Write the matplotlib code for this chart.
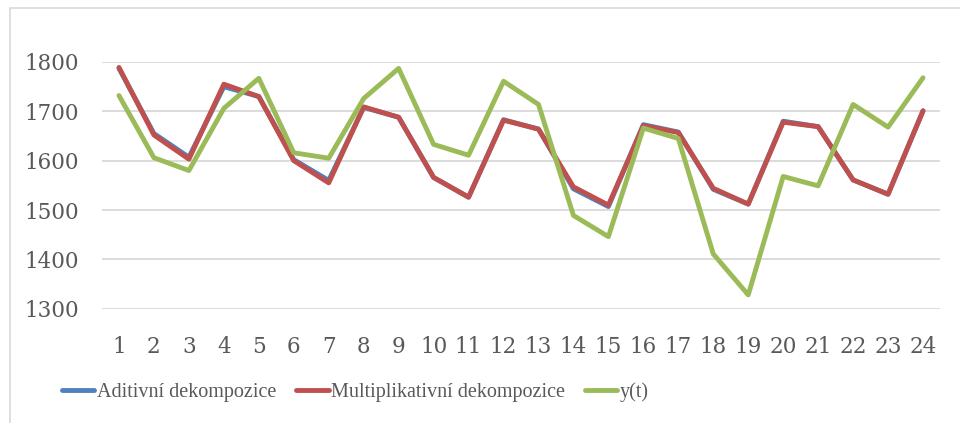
import numpy as np
import matplotlib
matplotlib.use("Agg")
import matplotlib.pyplot as plt
from matplotlib.patches import Rectangle

# Time index and the two decomposition fits vs. the observed series
t = list(range(1, 25))
aditivni = [1787, 1655, 1607, 1750, 1730, 1602, 1560, 1708, 1688, 1566, 1526, 1683,
            1664, 1543, 1507, 1673, 1658, 1542, 1512, 1680, 1669, 1561, 1532, 1701]
multiplikativni = [1789, 1652, 1603, 1755, 1730, 1600, 1555, 1709, 1688, 1566, 1526, 1682,
                   1664, 1547, 1510, 1671, 1657, 1544, 1512, 1678, 1669, 1561, 1532, 1701]
y_t = [1732, 1606, 1580, 1706, 1767, 1616, 1605, 1726, 1787, 1633, 1611, 1761,
       1714, 1489, 1446, 1666, 1645, 1411, 1328, 1568, 1549, 1714, 1668, 1768]
y_ticks = [1300, 1400, 1500, 1600, 1700, 1800]

BLUE, RED, GREEN = "#4f81bd", "#c0504d", "#9bbb59"
TXT = "#595959"
GRID = "#d9d9d9"
FONT = ["DejaVu Serif"]

fig = plt.figure(figsize=(9.6, 4.23), dpi=100)
# chart frame (left and top edges only show)
fig.patches.append(Rectangle((10 / 960, -0.1), 1.2, 1 - 8 / 423 + 0.1,
                             transform=fig.transFigure, fill=False,
                             edgecolor=GRID, lw=1.2))

ax = fig.add_axes([101.5 / 960, (423 - 308.7) / 423, 839 / 960, 246.7 / 423])
x = np.arange(len(t))
style = dict(lw=3.5, solid_capstyle="round", solid_joinstyle="round")
ax.plot(x, aditivni, color=BLUE, label="Aditivní dekompozice", zorder=3, **style)
ax.plot(x, multiplikativni, color=RED, label="Multiplikativní dekompozice", zorder=4, **style)
ax.plot(x, y_t, color=GREEN, label="y(t)", zorder=5, **style)

ax.set_xlim(-0.5, len(t) - 0.5)
ax.set_ylim(1300, 1800)
ax.set_xticks(x)
ax.set_xticklabels([str(v) for v in t], family=FONT, fontsize=15.5, color=TXT)
ax.set_yticks(y_ticks)
ax.set_yticklabels([str(v) for v in y_ticks], family=FONT, fontsize=15.5, color=TXT)
ax.tick_params(axis="both", length=0)
ax.tick_params(axis="y", pad=16)
ax.tick_params(axis="x", pad=20)
for s in ax.spines.values():
    s.set_visible(False)
ax.grid(axis="y", color=GRID, lw=1.3)
ax.set_axisbelow(True)
ax.patch.set_alpha(0)

leg = fig.legend(loc="center left", bbox_to_anchor=(44 / 960, 1 - 392 / 423), ncol=3,
                 frameon=False, handlelength=1.6, handletextpad=0.12, columnspacing=1.0,
                 prop={"family": ["Liberation Serif"], "size": 14.5})
for txt in leg.get_texts():
    txt.set_color(TXT)
for line in leg.get_lines():
    line.set_linewidth(3.5)

fig.savefig("out.png", dpi=100)
